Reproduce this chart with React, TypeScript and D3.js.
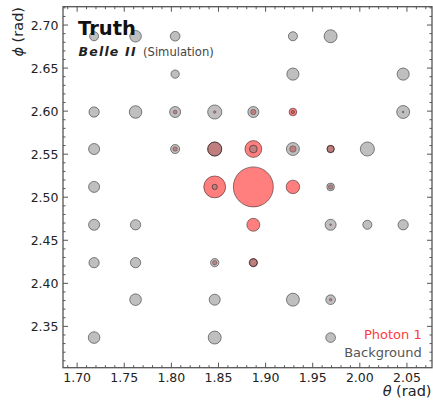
import React from "react";
import * as d3 from "d3";

// Crystal centres (rad)
const bgTheta = [
  1.718, 1.762, 1.804, 1.929, 1.969,
  1.804, 1.929, 2.046,
  1.718, 1.762, 1.804, 1.846, 1.887, 1.929, 2.046,
  1.718, 1.804, 1.846, 1.887, 1.929, 1.969, 2.008,
  1.718, 1.846, 1.969,
  1.718, 1.762, 1.969, 2.008, 2.046,
  1.718, 1.762, 1.846, 1.887,
  1.762, 1.846, 1.929, 1.969,
  1.718, 1.846, 1.969,
];
const bgPhi = [
  2.687, 2.687, 2.687, 2.687, 2.687,
  2.643, 2.643, 2.643,
  2.599, 2.599, 2.599, 2.599, 2.599, 2.599, 2.599,
  2.556, 2.556, 2.556, 2.556, 2.556, 2.556, 2.556,
  2.512, 2.512, 2.512,
  2.468, 2.468, 2.468, 2.468, 2.468,
  2.424, 2.424, 2.424, 2.424,
  2.381, 2.381, 2.381, 2.381,
  2.337, 2.337, 2.337,
];
const bgEnergy = [
  0.050, 0.082, 0.057, 0.050, 0.102,
  0.042, 0.090, 0.090,
  0.064, 0.096, 0.074, 0.121, 0.074, 0.006, 0.102,
  0.074, 0.050, 0.118, 0.036, 0.102, 0.031, 0.121,
  0.074, 0.017, 0.036,
  0.074, 0.064, 0.074, 0.050, 0.064,
  0.064, 0.064, 0.042, 0.036,
  0.082, 0.074, 0.102, 0.057,
  0.082, 0.102, 0.057,
];

const phTheta = [
  1.804, 1.846, 1.887, 1.929, 2.046,
  1.804, 1.846, 1.887, 1.929, 1.969,
  1.846, 1.887, 1.929, 1.969,
  1.887, 1.969,
  1.846, 1.887,
  1.969,
];
const phPhi = [
  2.599, 2.599, 2.599, 2.599, 2.599,
  2.556, 2.556, 2.556, 2.556, 2.556,
  2.512, 2.512, 2.512, 2.512,
  2.468, 2.468,
  2.424, 2.424,
  2.381,
];
const phEnergy = [
  0.009, 0.004, 0.017, 0.036, 0.002,
  0.012, 0.121, 0.172, 0.025, 0.033,
  0.290, 0.972, 0.111, 0.012,
  0.102, 0.002,
  0.012, 0.042,
  0.004,
];

const xTicks = [1.7, 1.75, 1.8, 1.85, 1.9, 1.95, 2.0, 2.05];
const xTickLabels = ["1.70", "1.75", "1.80", "1.85", "1.90", "1.95", "2.00", "2.05"];
const yTicks = [2.35, 2.4, 2.45, 2.5, 2.55, 2.6, 2.65, 2.7];
const yTickLabels = ["2.35", "2.40", "2.45", "2.50", "2.55", "2.60", "2.65", "2.70"];

const W = 433;
const H = 404;
const L = 63, R = 432, T = 6.7, B = 367.7;
const FONT = "DejaVu Sans";
const SPINE = "#555";

export default function App() {
  const x = d3.scaleLinear().domain([1.685, 2.0766]).range([L, R]);
  const y = d3.scaleLinear().domain([2.302, 2.7213]).range([B, T]);
  const r = d3.scaleSqrt().domain([0, 1]).range([0, 20.3]);

  const xMinor = d3.range(1.69, 2.075, 0.01).filter((v) => !xTicks.some((t) => Math.abs(t - v) < 1e-6));
  const yMinor = d3.range(2.31, 2.72, 0.01).filter((v) => !yTicks.some((t) => Math.abs(t - v) < 1e-6));

  const MAJ = 5, MIN = 2.5;

  return (
    <svg width={W} height={H} style={{ position: "absolute", left: 0, top: 0 }} fontFamily={FONT}>
      <rect x={0} y={0} width={W} height={H} fill="#fff" />
      {/* photon deposits */}
      <g>
        {phEnergy.map((e, i) => (
          <circle key={"p" + i} cx={x(phTheta[i])} cy={y(phPhi[i])} r={r(e)}
            fill="red" fillOpacity={0.5} stroke="#000" strokeOpacity={0.45} strokeWidth={1} />
        ))}
      </g>
      {/* background deposits */}
      <g>
        {bgEnergy.map((e, i) => (
          <circle key={"b" + i} cx={x(bgTheta[i])} cy={y(bgPhi[i])} r={r(e)}
            fill="#808080" fillOpacity={0.5} stroke="#000" strokeOpacity={0.45} strokeWidth={1} />
        ))}
      </g>

      {/* ticks */}
      <g stroke={SPINE} strokeWidth={1}>
        {xTicks.map((t) => (
          <g key={"xt" + t}>
            <line x1={x(t)} x2={x(t)} y1={B} y2={B - MAJ} />
            <line x1={x(t)} x2={x(t)} y1={T} y2={T + MAJ} />
          </g>
        ))}
        {xMinor.map((t) => (
          <g key={"xm" + t}>
            <line x1={x(t)} x2={x(t)} y1={B} y2={B - MIN} />
            <line x1={x(t)} x2={x(t)} y1={T} y2={T + MIN} />
          </g>
        ))}
        {yTicks.map((t) => (
          <g key={"yt" + t}>
            <line x1={L} x2={L + MAJ} y1={y(t)} y2={y(t)} />
            <line x1={R} x2={R - MAJ} y1={y(t)} y2={y(t)} />
          </g>
        ))}
        {yMinor.map((t) => (
          <g key={"ym" + t}>
            <line x1={L} x2={L + MIN} y1={y(t)} y2={y(t)} />
            <line x1={R} x2={R - MIN} y1={y(t)} y2={y(t)} />
          </g>
        ))}
      </g>
      <rect x={L} y={T} width={R - L} height={B - T} fill="none" stroke={SPINE} strokeWidth={1.3} />

      {/* tick labels */}
      <g fontSize={12.5} fill="#222">
        {xTicks.map((t, i) => (
          <text key={"xl" + t} x={x(t)} y={381.5} textAnchor="middle">{xTickLabels[i]}</text>
        ))}
        {yTicks.map((t, i) => (
          <text key={"yl" + t} x={58.5} y={y(t)} textAnchor="end" dominantBaseline="central">{yTickLabels[i]}</text>
        ))}
      </g>

      {/* axis labels */}
      <text x={431.5} y={396.3} textAnchor="end" fontSize={14.5} fill="#222">
        <tspan fontStyle="italic">θ</tspan> (rad)
      </text>
      <text transform="translate(23,7) rotate(-90)" textAnchor="end" fontSize={14.5} fill="#222">
        <tspan fontStyle="italic">ϕ</tspan> (rad)
      </text>

      {/* title */}
      <text x={78} y={35} fontSize={19.5} fontWeight="bold" fill="#111">Truth</text>
      <text x={78.5} y={56} fontSize={12.5} fontWeight="bold" fontStyle="italic" fill="#222" letterSpacing={1.2}>Belle II</text>
      <text x={143} y={56} fontSize={11.6} fill="#444">(Simulation)</text>

      {/* legend */}
      <text x={421.7} y={339} textAnchor="end" fontSize={13} fill="#ff3b3b">Photon 1</text>
      <text x={421.7} y={356.7} textAnchor="end" fontSize={13} fill="#555">Background</text>
    </svg>
  );
}
